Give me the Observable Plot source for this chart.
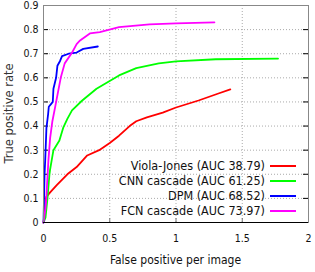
<!DOCTYPE html>
<html>
<head>
<meta charset="utf-8">
<script src="https://cdn.jsdelivr.net/npm/d3@7"></script>
<script src="https://cdn.jsdelivr.net/npm/@observablehq/plot@0.6"></script>
<style>
  html, body { margin: 0; padding: 0; background: #fff; }
</style>
</head>
<body>
<div id="chart"></div>
<script>
const xTicks = [0, 0.5, 1, 1.5, 2];
const yTicks = [0, 0.1, 0.2, 0.3, 0.4, 0.5, 0.6, 0.7, 0.8, 0.9];

const seriesNames = ["Viola-Jones (AUC 38.79)", "CNN cascade (AUC 61.25)", "DPM (AUC 68.52)", "FCN cascade (AUC 73.97)"];
const seriesColors = ["#ff0000", "#00ff00", "#0000ff", "#ff00ff"];

const vjFp  = [0, 0.01, 0.02, 0.05, 0.1, 0.18, 0.25, 0.33, 0.42, 0.5, 0.57, 0.65, 0.7, 0.78, 0.9, 1.0, 1.17, 1.32, 1.41];
const vjTpr = [0, 0.05, 0.105, 0.125, 0.155, 0.2, 0.23, 0.278, 0.3, 0.33, 0.36, 0.4, 0.42, 0.436, 0.456, 0.477, 0.506, 0.535, 0.552];

const cnnFp  = [0, 0.015, 0.03, 0.045, 0.05, 0.075, 0.12, 0.15, 0.18, 0.215, 0.29, 0.4, 0.57, 0.7, 0.87, 1.0, 1.3, 1.77];
const cnnTpr = [0, 0.02, 0.1, 0.2, 0.22, 0.3, 0.34, 0.395, 0.43, 0.465, 0.505, 0.555, 0.61, 0.64, 0.66, 0.668, 0.677, 0.68];

const dpmFp  = [0, 0.002, 0.008, 0.013, 0.022, 0.035, 0.04, 0.055, 0.07, 0.075, 0.095, 0.105, 0.125, 0.14, 0.19, 0.25, 0.3, 0.41];
const dpmTpr = [0, 0.05, 0.2, 0.26, 0.39, 0.45, 0.48, 0.49, 0.5, 0.555, 0.6, 0.65, 0.67, 0.69, 0.7, 0.705, 0.72, 0.73];

const fcnFp  = [0, 0.015, 0.02, 0.037, 0.05, 0.067, 0.09, 0.13, 0.16, 0.216, 0.25, 0.276, 0.35, 0.425, 0.57, 0.8, 1.0, 1.29];
const fcnTpr = [0, 0.06, 0.09, 0.257, 0.35, 0.42, 0.485, 0.6, 0.66, 0.705, 0.74, 0.755, 0.784, 0.79, 0.81, 0.822, 0.826, 0.83];

const fpSets = [vjFp, cnnFp, dpmFp, fcnFp];
const tprSets = [vjTpr, cnnTpr, dpmTpr, fcnTpr];

const rows = [];
seriesNames.forEach((name, i) => {
  fpSets[i].forEach((fp, j) => rows.push({series: name, fp, tpr: tprSets[i][j]}));
});

const W = 315, H = 272;
const mL = 43, mR = 7, mT = 5, mB = 50;
const plotW = W - mL - mR, plotH = H - mT - mB;
const tickFont = "'Liberation Sans Narrow', 'DejaVu Sans Condensed', 'Arial Narrow', sans-serif";

const chart = Plot.plot({
  width: W,
  height: H,
  marginLeft: mL,
  marginRight: mR,
  marginTop: mT,
  marginBottom: mB,
  style: {fontFamily: tickFont, fontSize: "10.5px", color: "#111", background: "#fff"},
  x: {domain: [0, 2], ticks: xTicks},
  y: {domain: [0, 0.9], ticks: yTicks},
  color: {domain: seriesNames, range: seriesColors},
  marks: [
    Plot.gridX(xTicks, {stroke: "#aaa", strokeOpacity: 1, strokeDasharray: "1,2"}),
    Plot.gridY(yTicks, {stroke: "#aaa", strokeOpacity: 1, strokeDasharray: "1,2"}),
    Plot.tickY(yTicks, {y: d => d, stroke: "#000", insetRight: plotW - 5}),
    Plot.tickY(yTicks, {y: d => d, stroke: "#000", insetLeft: plotW - 5}),
    Plot.tickX(xTicks, {x: d => d, stroke: "#777", insetTop: plotH - 4}),
    Plot.line(rows, {x: "fp", y: "tpr", z: "series", stroke: "series", strokeWidth: 1.8}),
    Plot.frame({stroke: "#888"}),
    Plot.ruleY([0], {stroke: "#000", strokeWidth: 1.2}),
    Plot.axisX(xTicks, {tickSize: 0, tickPadding: 12, label: null, tickFormat: d => String(d)}),
    Plot.axisY(yTicks, {tickSize: 0, tickPadding: 5, label: null, tickFormat: d => d === 0 ? "0" : d.toFixed(1)})
  ]
});

document.getElementById("chart").appendChild(chart);

const svg = d3.select(chart);

// axis titles
svg.append("text")
  .attr("transform", `translate(13,${mT + plotH / 2}) rotate(-90)`)
  .attr("text-anchor", "middle")
  .attr("font-family", "'DejaVu Sans', sans-serif")
  .attr("font-size", "11.5px")
  .attr("fill", "#333")
  .text("True positive rate");

svg.append("text")
  .attr("x", mL + plotW / 2)
  .attr("y", 264)
  .attr("text-anchor", "middle")
  .attr("font-family", tickFont)
  .attr("font-size", "12px")
  .attr("fill", "#111")
  .text("False positive per image");

// legend inside bottom-right
const legend = svg.append("g");
seriesNames.forEach((name, i) => {
  const cy = 166 + i * 15;
  legend.append("text")
    .attr("x", 265)
    .attr("y", cy)
    .attr("dy", "0.35em")
    .attr("text-anchor", "end")
    .attr("font-family", tickFont)
    .attr("font-size", "12.5px")
    .attr("fill", "#111")
    .text(name);
  legend.append("line")
    .attr("x1", 270).attr("x2", 296)
    .attr("y1", cy).attr("y2", cy)
    .attr("stroke", seriesColors[i])
    .attr("stroke-width", 2);
});
</script>
</body>
</html>
